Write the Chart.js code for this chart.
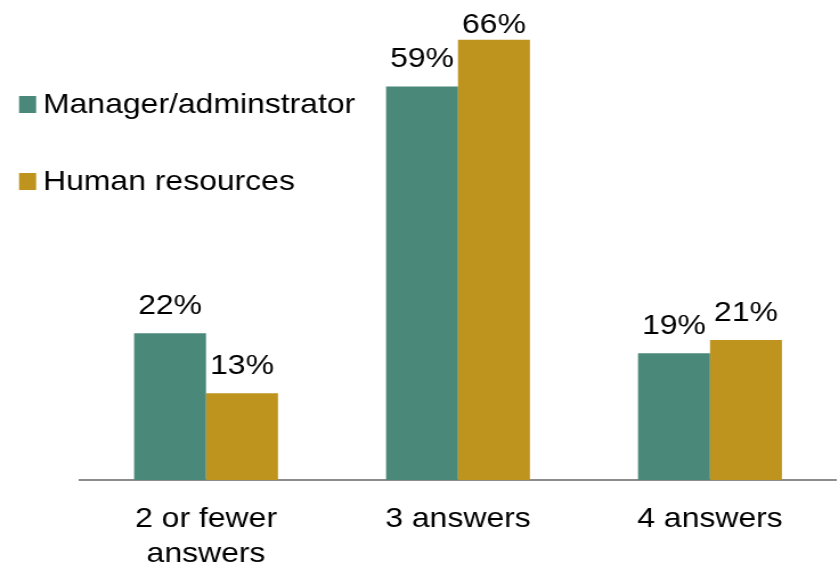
<!DOCTYPE html>
<html>
<head>
<meta charset="utf-8">
<script src="https://cdn.jsdelivr.net/npm/chart.js@4/dist/chart.umd.min.js"></script>
<style>
  html, body { margin: 0; padding: 0; background: #fff; overflow: hidden; }
  /* the source picture is a little wider than tall, so the whole chart is stretched sideways */
  #wrap { width: 736px; height: 568px; transform: scaleX(1.14); transform-origin: 0 0; }
</style>
</head>
<body>
<div id="wrap"><canvas id="chart"></canvas></div>
<script>
const categories = [['2 or fewer', 'answers'], '3 answers', '4 answers'];
const seriesNames = ['Manager/adminstrator', 'Human resources'];
const managerValues = [22, 59, 19];
const hrValues = [13, 66, 21];
const seriesColors = ['#4A8879', '#BE941F'];

const FONT = '"Liberation Sans", Arial, sans-serif';

// value labels above each bar, kept inside the plot area
const valueLabels = {
    id: 'valueLabels',
    afterDatasetsDraw(chart) {
        const ctx = chart.ctx;
        const top = chart.chartArea.top;
        ctx.save();
        ctx.font = '28px ' + FONT;
        ctx.fillStyle = '#000';
        ctx.textAlign = 'center';
        ctx.textBaseline = 'alphabetic';
        chart.data.datasets.forEach((ds, i) => {
            chart.getDatasetMeta(i).data.forEach((bar, j) => {
                const y = Math.max(bar.y - 19, top + 20);
                ctx.fillText(ds.data[j] + '%', bar.x, y);
            });
        });
        ctx.restore();
    }
};

// legend stacked on the left, over the plot
const sideLegend = {
    id: 'sideLegend',
    afterDraw(chart) {
        const ctx = chart.ctx;
        ctx.save();
        ctx.font = '28px ' + FONT;
        ctx.textBaseline = 'middle';
        chart.data.datasets.forEach((ds, i) => {
            const cy = 104 + i * 77;
            ctx.fillStyle = ds.backgroundColor;
            ctx.fillRect(16.7, cy - 8, 15, 17);
            ctx.fillStyle = '#000';
            ctx.fillText(ds.label, 37.7, cy + 1);
        });
        ctx.restore();
    }
};

new Chart(document.getElementById('chart'), {
    type: 'bar',
    data: {
        labels: categories,
        datasets: [
            { label: seriesNames[0], data: managerValues, backgroundColor: seriesColors[0] },
            { label: seriesNames[1], data: hrValues, backgroundColor: seriesColors[1] }
        ]
    },
    options: {
        responsive: true,
        maintainAspectRatio: false,
        animation: false,
        layout: { padding: { top: 13, left: 70.2, right: 2.7, bottom: 0 } },
        datasets: { bar: { categoryPercentage: 0.571, barPercentage: 1.0 } },
        plugins: {
            legend: { display: false },
            tooltip: { enabled: false }
        },
        scales: {
            x: {
                grid: { display: false, drawTicks: false },
                border: { display: true, color: '#8C8C8C', width: 2 },
                ticks: {
                    color: '#000',
                    padding: 22,
                    maxRotation: 0,
                    font: { family: FONT, size: 28, lineHeight: 1.25 }
                },
                afterFit(scale) { scale.height = 88; }
            },
            y: {
                display: false,
                min: 0,
                max: 70
            }
        }
    },
    plugins: [valueLabels, sideLegend]
});
</script>
</body>
</html>
